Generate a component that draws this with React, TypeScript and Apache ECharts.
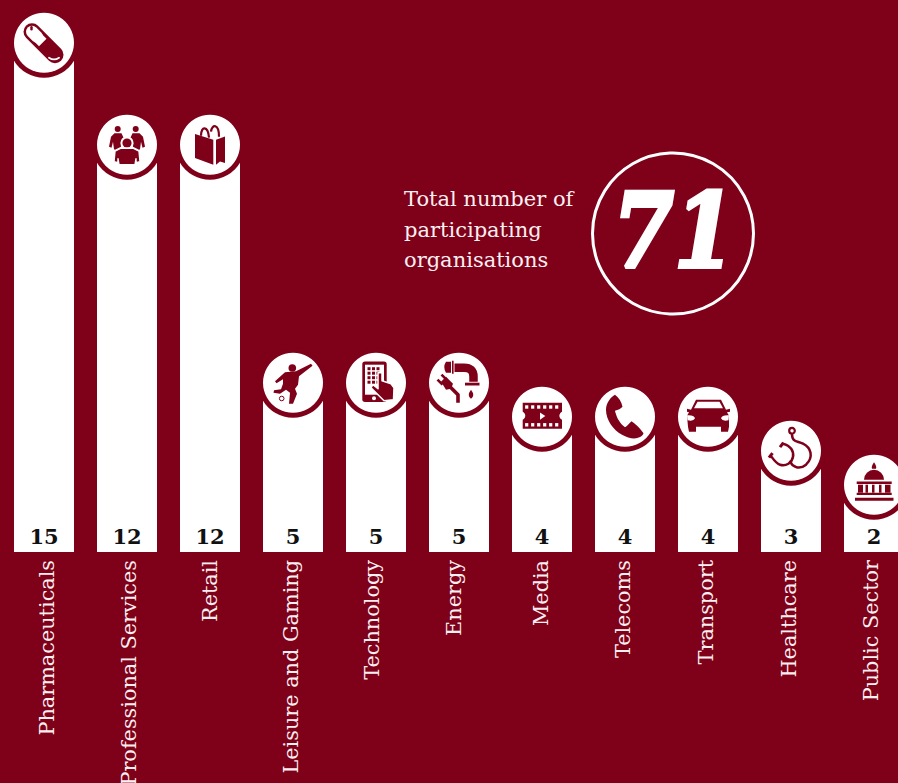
import React, { useEffect, useRef } from "react";
import * as echarts from "echarts";

const categories = ["Pharmaceuticals", "Professional Services", "Retail", "Leisure and Gaming", "Technology", "Energy", "Media", "Telecoms", "Transport", "Healthcare", "Public Sector"];
const participants = [15, 12, 12, 5, 5, 5, 4, 4, 4, 3, 2];
const totalLines = ["Total number of", "participating", "organisations"];
const totalValue = "71";

const BG = "#7e0019";
const WHITE = "#ffffff";
const LABEL = "#fbeff1";
const SERIF = "'DejaVu Serif', serif";
// the reference's rotated labels sit slightly off their bars' centres
const labelNudge = [3, 1.5, 0, -2, -4.5, -5.5, -1, -2, -2, -2, -3];

type Part = { d: string; fill?: string; stroke?: string; lw?: number; cap?: string };
const M = BG;
const W = WHITE;

const circ = (cx: number, cy: number, r: number) =>
  `M${cx - r} ${cy}A${r} ${r} 0 1 1 ${cx + r} ${cy}A${r} ${r} 0 1 1 ${cx - r} ${cy}Z`;
const box = (x0: number, y0: number, x1: number, y1: number) =>
  `M${x0} ${y0}L${x1} ${y0}L${x1} ${y1}L${x0} ${y1}Z`;

const filmPerfs: Part[] = [-15.3, -9.3, -3.3, 2.7, 8.7, 14.7].flatMap((x) => [
  { d: box(x - 1.6, -11.4, x + 1.6, -8), fill: W },
  { d: box(x - 1.6, 6.4, x + 1.6, 9.8), fill: W },
]);
const screenKeys: Part[] = [-8.5, -4, 0.5].flatMap((x) =>
  [-15.5, -11, -6.5, -2].map((y) => ({ d: box(x, y, x + 3, y + 3), fill: M }))
);

const ICONS: Part[][] = [
  // pill
  [
    { d: "M-12 -11L11 12", stroke: M, lw: 17, cap: "round" },
    { d: "M-12 -11L-7 -6", stroke: W, lw: 12, cap: "round" },
    { d: "M-5.5 -12L-13 -4.5L-5 3.5L2.5 -4Z", fill: W },
    { d: "M-12.5 -15.5L-12.5 -13.5", stroke: M, lw: 2.4, cap: "round" },
    { d: "M5 15Q10 18.5 15 15", stroke: W, lw: 1.8, cap: "round" },
  ],
  // people
  [
    { d: circ(-9.3, -15.7, 3), fill: M },
    { d: circ(8.7, -15.7, 3), fill: M },
    { d: "M-12.5 -11.5L-5.5 -11.5L-3 -6L-6 2L-12 5L-13 4.5L-14 -3L-15.5 3L-18 2L-16 -8Z", fill: M },
    { d: "M12.5 -11.5L5.5 -11.5L3 -6L6 2L12 5L13 4.5L14 -3L15.5 3L18 2L16 -8Z", fill: M },
    { d: circ(0, -1.7, 6.6), fill: W },
    { d: circ(0, -1.7, 4.6), fill: M },
    { d: "M-6 3.5L6 3.5L12 6.5L13 17L9 18L9 14L8 20L-8 20L-9 14L-9 18L-13 17L-12 6.5Z", fill: M, stroke: W, lw: 1.4 },
  ],
  // shopping bag
  [
    { d: "M-15 -10.7L3.3 -5L3.3 20L-15 13.3Z", fill: M },
    { d: "M6 -5L15 -8.3L15 18.3L10 16.7L6 20Z", fill: M },
    { d: "M-9 -9C-9 -19 -2 -19 -1 -7", stroke: M, lw: 2.2 },
    { d: "M1 -13C2 -21 9 -21 9 -8", stroke: M, lw: 2.2 },
  ],
  // football player
  [
    { d: circ(-0.7, -14.7, 3.8), fill: M },
    { d: "M-8 -10.5L3 -11.5L18 -19L19.5 -17L6 -6.5L5 2L2 6L4 11L0 21L-4 21L-3 10L-7 7L-13 11L-19.5 10L-19 7.5L-12 6.5L-10 1L-10 -3.5L-16.5 0.5L-18 -1.5Z", fill: M },
    { d: circ(-11.3, 15.8, 2.3), stroke: M, lw: 1, fill: W },
  ],
  // smartphone with hand
  [
    { d: "M-11 -21.3L8 -21.3Q10.7 -21.3 10.7 -18.6L10.7 16.6Q10.7 19.3 8 19.3L-11 19.3Q-13.7 19.3 -13.7 16.6L-13.7 -18.6Q-13.7 -21.3 -11 -21.3Z", fill: M },
    { d: box(-11, -18, 8, 12), fill: W },
    ...screenKeys,
    { d: circ(-2, 15.5, 2), fill: W },
    { d: "M2 -10L6 -10L6 -2L15 1L18 5L17.5 17L8 18L-5 5L-3 2L2 6Z", fill: M, stroke: W, lw: 1.5 },
  ],
  // pipe and plug
  [
    { d: "M-13 -21L-8 -21L-8 -10L-13 -10Q-16.5 -15.5 -13 -21Z", fill: M },
    { d: box(-7, -22, -5.4, -9), fill: M },
    { d: "M-4.5 -15L5 -15Q14.5 -15 14.5 -6L14.5 -1", stroke: M, lw: 8.5 },
    { d: box(6, 0, 20.5, 2.8), fill: M },
    { d: "M12 7Q16.5 13 12 16Q7.5 13 12 7Z", fill: M },
    { d: "M-21.5 -3L-16.5 2", stroke: M, lw: 2.6 },
    { d: "M-17.5 -8L-12.5 -3", stroke: M, lw: 2.6 },
    { d: "M-18 -1L-13 -6L-6 1L-8 6L-13 7Z", fill: M },
    { d: "M-9 4L-1 12L-1 20", stroke: M, lw: 3.6 },
  ],
  // film strip
  [
    { d: "M-19.3 -14L20 -14L20 -5C16.5 -3 16.5 1 20 3L20 12L-19.3 12L-19.3 3C-15.8 1 -15.8 -3 -19.3 -5Z", fill: M },
    ...filmPerfs,
    { d: "M-2 -4.3L3.3 -0.7L-2 3Z", fill: W },
  ],
  // telephone handset
  [
    { d: "M-10 -22C-14 -20 -19 -14 -19 -7C-19 3 -12 13 -3 18C3 21.5 9 22.5 13 21C16 20 18 18.5 18.5 16.5C14 10 10 7 6.5 4.5C4 7 2 9.5 0 10.5C-3 8.5 -7 3.5 -8.5 -1C-9.5 -4 -10 -5 -10 -6C-7 -7 -4 -8 -2.5 -10C-3.5 -15 -6 -19 -10 -22Z", fill: M },
    { d: "M-6.5 -21.5C-4 -18 -2 -14 -1 -10", stroke: W, lw: 0.9 },
    { d: "M7.5 3.5C11 6 15 10 19 15", stroke: W, lw: 0.9 },
  ],
  // car
  [
    { d: "M-12 -17L13 -17L18 -7L22 -8L22 -5L19 -4.5L21 -1L21 10L20 15L13 15L13 10L-12 10L-12 15L-19 15L-20 10L-21 -1L-19 -4.5L-21 -5L-21 -8L-17 -7Z", fill: M },
    { d: "M-10.5 -15L11.5 -15L15 -8.5L-14 -8.5Z", fill: W },
    { d: "M-21 -1.5Q-14 -2 -13 1.5Q-14.5 5 -20.5 3.5Z", fill: W },
    { d: "M21 -1.5Q14 -2 13 1.5Q14.5 5 20.5 3.5Z", fill: W },
  ],
  // stethoscope
  [
    { d: circ(1, -20, 2.8), stroke: M, lw: 2.2 },
    { d: "M1 -17C1 -8 6 -10 12 -7C20 -3 23 6 15 14C9 19 1 17 -1 10", stroke: M, lw: 2.5 },
    { d: "M-21 4C-18 8 -15 13 -11 14C-5 16 1 12 2 6C3 1 0 -5 -8 -7", stroke: M, lw: 2.5 },
    { d: "M-22 7L-18.5 2.5", stroke: M, lw: 3 },
    { d: "M-11 -3.5L-7.5 -8", stroke: M, lw: 3 },
  ],
  // capitol
  [
    { d: "M0 -22.5Q3 -18.5 2 -16L-2 -16Q-3 -18.5 0 -22.5Z", fill: M },
    { d: "M-10 -5A10 10 0 0 1 10 -5Z", fill: M },
    { d: box(-17.3, -3.2, 17.7, -0.7), fill: M },
    { d: box(-16, 0, -11, 8), fill: M },
    { d: box(-8.5, 0, -6, 8), fill: M },
    { d: box(-2, 0, 0.5, 8), fill: M },
    { d: box(5, 0, 7.5, 8), fill: M },
    { d: box(11, 0, 16.5, 8), fill: M },
    { d: box(-17.3, 8, 17.7, 10.4), fill: M },
    { d: box(-19, 13, 19.5, 16), fill: M },
  ],
];

ICONS.forEach((parts, i) =>
  parts.forEach((p, j) =>
    echarts.graphic.registerShape(`icon_${i}_${j}`, echarts.graphic.extendPath(p.d, {}) as any)
  )
);

function renderMedallion(params: any, api: any) {
  const [x, y] = api.coord([api.value(0), api.value(1)]);
  const parts = ICONS[params.dataIndex];
  return {
    type: "group",
    x,
    y: y + 0.7,
    children: [
      { type: "circle", shape: { cx: 0, cy: 0, r: 35 }, style: { fill: BG } },
      { type: "circle", shape: { cx: 0, cy: 0, r: 30 }, style: { fill: WHITE } },
      ...parts.map((p, j) => ({
        type: `icon_${params.dataIndex}_${j}`,
        style: {
          fill: p.fill ?? "none",
          stroke: p.stroke ?? "none",
          lineWidth: p.lw ?? 0,
          lineCap: p.cap ?? "butt",
          lineJoin: "round",
        },
      })),
    ],
  };
}

const labelRich: Record<string, any> = {};
labelNudge.forEach((d, i) => {
  labelRich[`n${i}`] = {
    color: LABEL,
    fontFamily: SERIF,
    fontSize: 20.8,
    padding: d >= 0 ? [2 * d, 0, 0, 0] : [0, 0, -2 * d, 0],
  };
});

export default function App() {
  const ref = useRef<HTMLDivElement>(null);
  useEffect(() => {
    document.body.style.margin = "0";
    document.body.style.background = BG;
    const chart = echarts.init(ref.current!, undefined, { renderer: "svg" });
    chart.setOption({
      animation: false,
      backgroundColor: BG,
      grid: { left: 2.5, top: 8, width: 913, height: 544, containLabel: false, outerBoundsMode: "none" },
      xAxis: {
        type: "category",
        data: categories,
        axisLine: { show: false },
        axisTick: { show: false },
        axisLabel: {
          interval: 0,
          rotate: 90,
          margin: 8,
          align: "right",
          verticalAlign: "middle",
          color: LABEL,
          fontFamily: SERIF,
          fontSize: 20.8,
          hideOverlap: false,
          formatter: (v: string, i: number) => `{n${i}|${v}}`,
          rich: labelRich,
        },
      },
      yAxis: { type: "value", min: 0, max: 16, show: false, splitLine: { show: false } },
      series: [
        {
          type: "bar",
          data: participants,
          barWidth: 60,
          itemStyle: { color: WHITE },
          label: {
            show: true,
            position: "insideBottom",
            distance: 5,
            color: "#111111",
            fontFamily: SERIF,
            fontWeight: "bold",
            fontSize: 21,
          },
          z: 2,
        },
        {
          type: "custom",
          data: participants.map((v, i) => [i, v]),
          renderItem: renderMedallion,
          z: 3,
          silent: true,
        },
      ],
      graphic: [
        {
          type: "text",
          left: 404,
          top: 184,
          style: {
            text: totalLines.join("\n"),
            fill: LABEL,
            font: `21px ${SERIF}`,
            lineHeight: 30.5,
          },
        },
        {
          type: "circle",
          shape: { cx: 673, cy: 233.5, r: 80.5 },
          style: { fill: "none", stroke: WHITE, lineWidth: 3 },
        },
        {
          type: "text",
          x: 674,
          y: 231,
          scaleX: 0.86,
          style: {
            text: totalValue,
            fill: WHITE,
            stroke: WHITE,
            lineWidth: 4,
            font: `italic bold 102px ${SERIF}`,
            align: "center",
            verticalAlign: "middle",
          },
        },
      ],
    });
    return () => chart.dispose();
  }, []);
  return <div ref={ref} style={{ width: 898, height: 783, position: "absolute", left: 0, top: 0 }} />;
}
